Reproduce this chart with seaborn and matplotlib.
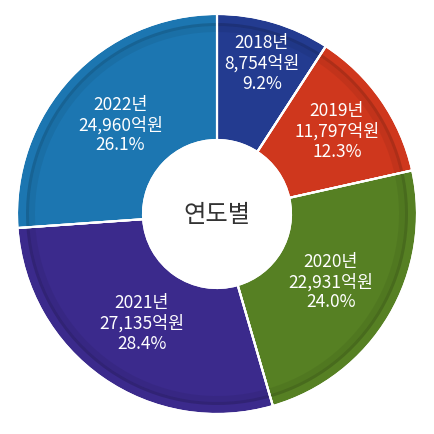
import matplotlib
matplotlib.use("Agg")
import matplotlib.pyplot as plt
import seaborn as sns
import numpy as np

# 데이터
years = ["2018년", "2019년", "2020년", "2021년", "2022년"]
amounts = [8754, 11797, 22931, 27135, 24960]
pct_labels = ["9.2%", "12.3%", "24.0%", "28.4%", "26.1%"]
colors = ["#233b90", "#cf371d", "#568023", "#3b2a8c", "#1c76b1"]

sns.set_theme(style="white")
plt.rcParams["font.family"] = ["Noto Sans CJK KR", "DejaVu Sans"]

fig = plt.figure(figsize=(4.35, 4.35), dpi=100)
ax = fig.add_axes([0, 0, 1, 1])

wedges, _ = ax.pie(amounts, colors=colors, startangle=90, counterclock=False,
                   radius=1.0, wedgeprops=dict(width=0.63, edgecolor="white", linewidth=1.5))

# 안쪽 그림자 테두리
ax.pie(amounts, colors=["black"] * len(amounts), startangle=90, counterclock=False,
       radius=0.955, wedgeprops=dict(width=0.015, edgecolor="none", alpha=0.16))
ax.pie(amounts, colors=["black"] * len(amounts), startangle=90, counterclock=False,
       radius=0.94, wedgeprops=dict(width=0.03, edgecolor="none", alpha=0.06))
for w in wedges:
    ax.add_patch(matplotlib.patches.Wedge((0, 0), 1.0, w.theta1, w.theta2, width=0.63,
                                          facecolor="none", edgecolor="white", linewidth=1.5))

for i, w in enumerate(wedges):
    ang = np.deg2rad((w.theta1 + w.theta2) / 2)
    r = 0.79 if amounts[i] < 10000 else (0.73 if amounts[i] < 15000 else 0.66)
    txt = f"{years[i]}\n{amounts[i]:,}억원\n{pct_labels[i]}"
    ax.text(r * np.cos(ang), r * np.sin(ang), txt, ha="center", va="center",
            color="white", fontsize=12.5, linespacing=1.15)

ax.text(0, 0, "연도별", ha="center", va="center", fontsize=17.5, color="#333333")

ax.set_xlim(-217 / 200, (435 - 217) / 200)
ax.set_ylim(-(435 - 215) / 200, 215 / 200)
ax.set_aspect("equal")
ax.axis("off")

fig.savefig("out.png", dpi=100, facecolor="white")
